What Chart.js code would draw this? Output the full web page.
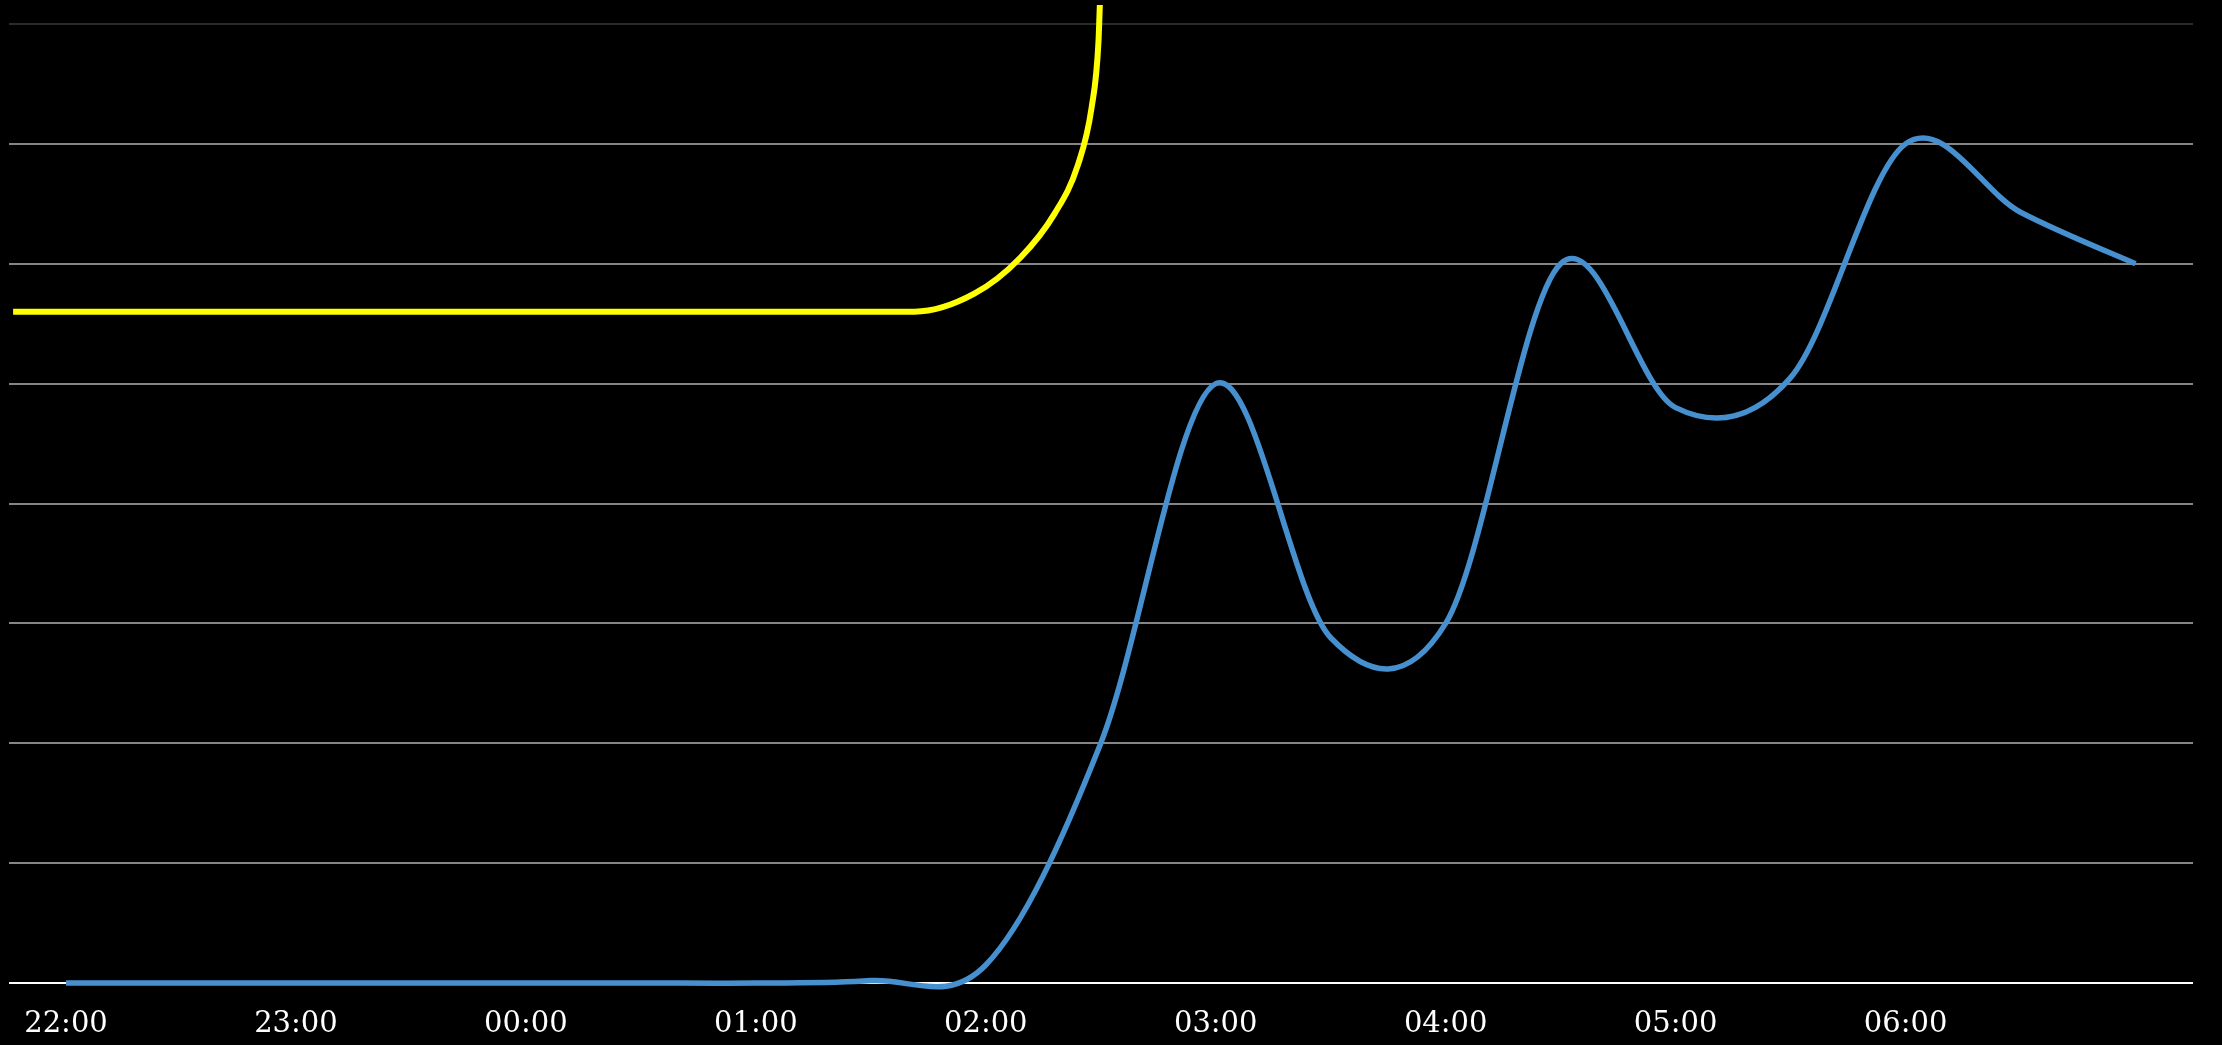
<!DOCTYPE html>
<html>
<head>
<meta charset="utf-8">
<script src="https://cdn.jsdelivr.net/npm/chart.js@4"></script>
<style>
    html, body { margin: 0; padding: 0; background: #000; }
    #wrap { width: 2222px; height: 1045px; position: relative; }
</style>
</head>
<body>
<div id="wrap"><canvas id="chart"></canvas></div>
<script>
// Data (hours counted from 22:00)
const hourLabels = ['22:00', '23:00', '00:00', '01:00', '02:00', '03:00', '04:00', '05:00', '06:00'];
const hourTicks = [0, 1, 2, 3, 4, 5, 6, 7, 8];

const blueHours = [0, 0.5, 1, 1.5, 2, 2.5, 3, 3.5, 4, 4.5, 5, 5.5, 6, 6.5, 7, 7.5, 8, 8.5, 9];
const blueValues = [0, 0, 0, 0, 0, 0, 0, 0.02, 0.15, 2.0, 5.0, 2.88, 3.0, 6.0, 4.8, 5.05, 7.0, 6.43, 6.0];

const yellowHours = [-0.23, 3.69, 3.95, 4.15, 4.3, 4.4, 4.46, 4.49, 4.5];
const yellowValues = [5.6, 5.6, 5.75, 6.05, 6.42, 6.82, 7.3, 7.85, 8.4];

const toPoints = (xs, ys) => xs.map((x, i) => ({ x: x, y: ys[i] }));

// smooth like a spreadsheet: control points at P +/- (next - prev) / 6
const smoothLine = {
    id: 'smoothLine',
    beforeDatasetDraw(chart, args) {
        if (args.index !== 1) return;
        const meta = args.meta;
        meta.dataset.updateControlPoints(chart.chartArea, 'x');
        const pts = meta.data;
        pts.forEach((p, i) => {
            const prev = pts[Math.max(i - 1, 0)];
            const next = pts[Math.min(i + 1, pts.length - 1)];
            const dx = (next.x - prev.x) / 6;
            const dy = (next.y - prev.y) / 6;
            p.cp1x = p.x - dx; p.cp1y = p.y - dy;
            p.cp2x = p.x + dx; p.cp2y = p.y + dy;
        });
    }
};

const ctx = document.getElementById('chart').getContext('2d');
const myChart = new Chart(ctx, {
    type: 'line',
    data: {
        datasets: [
            {
                data: toPoints(yellowHours, yellowValues),
                borderColor: '#ffff00',
                borderWidth: 6,
                pointRadius: 0,
                cubicInterpolationMode: 'monotone',
                clip: { left: 0, top: 19, right: 0, bottom: 0 }
            },
            {
                data: toPoints(blueHours, blueValues),
                borderColor: '#4690d0',
                borderWidth: 5.5,
                pointRadius: 0,
                tension: 0.4,
                clip: 10
            }
        ]
    },
    options: {
        responsive: true,
        maintainAspectRatio: false,
        animation: false,
        layout: { padding: { left: 8, right: 29, top: 24, bottom: 0 } },
        plugins: { legend: { display: false }, tooltip: { enabled: false } },
        scales: {
            x: {
                type: 'linear',
                min: -0.25,
                max: 9.25,
                afterBuildTicks: scale => { scale.ticks = hourTicks.map(v => ({ value: v })); },
                afterFit: scale => { scale.height = 62; },
                ticks: {
                    autoSkip: false,
                    maxRotation: 0,
                    color: '#ffffff',
                    padding: 24,
                    font: { family: 'DejaVu Serif', size: 29 },
                    callback: (v, i) => hourLabels[i]
                },
                grid: { display: false, drawTicks: false },
                border: { display: false }
            },
            y: {
                min: 0,
                max: 8,
                ticks: { display: false, stepSize: 1 },
                grid: {
                    drawTicks: false,
                    lineWidth: 2,
                    color: c => c.tick.value === 0 ? '#ffffff' : (c.tick.value === 8 ? '#2b2b2b' : '#858585')
                },
                border: { display: false }
            }
        }
    },
    plugins: [smoothLine]
});
</script>
</body>
</html>
